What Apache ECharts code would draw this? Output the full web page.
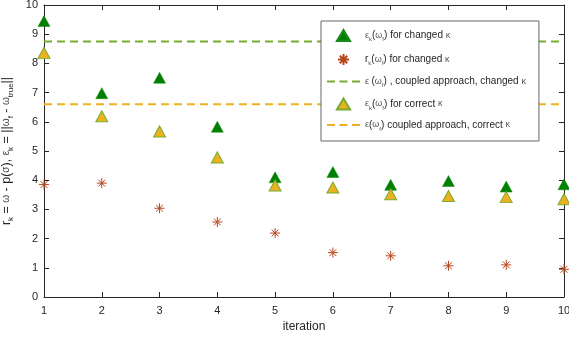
<!DOCTYPE html>
<html>
<head>
<meta charset="utf-8">
<script src="https://cdn.jsdelivr.net/npm/echarts@6/dist/echarts.min.js"></script>
<style>
  html, body { margin: 0; padding: 0; background: #fff; }
  #chart { width: 569px; height: 338px; }
</style>
</head>
<body>
<div id="chart"></div>
<script>
// iterations 1..10
const iterations = [1, 2, 3, 4, 5, 6, 7, 8, 9, 10];
// eps_k(omega_f) for changed kappa
const epsChanged = [9.45, 6.98, 7.51, 5.83, 4.10, 4.28, 3.84, 3.97, 3.78, 3.86];
// r_k(omega_f) for changed kappa
const rChanged = [3.85, 3.90, 3.04, 2.57, 2.19, 1.52, 1.41, 1.07, 1.10, 0.95];
// eps_k(omega_f) for correct kappa
const epsCorrect = [8.36, 6.19, 5.67, 4.78, 3.82, 3.75, 3.52, 3.46, 3.42, 3.35];
// coupled approach reference levels
const coupledChanged = 8.75;
const coupledCorrect = 6.6;

const xTicks = [1, 10]; // x range
const yTicks = [0, 10]; // y range

const pairs = (xs, ys) => xs.map((x, i) => [x, ys[i]]);
const flat = v => [[xTicks[0], v], [xTicks[1], v]];

const chart = echarts.init(document.getElementById('chart'));

const textColor = '#262626';
const fontFam = 'Liberation Sans, Arial, sans-serif';
const asterisk = 'path://M0 5 L10 5 M5 0 L5 10 M1.6 1.6 L8.4 8.4 M1.6 8.4 L8.4 1.6';
const triPath = 'path://M6 0 L12 10 L0 10 Z';
const dashPath = 'path://M0 0 H8 V2 H0 Z M12.5 0 H20.5 V2 H12.5 Z M25 0 H33 V2 H25 Z';

const legendText = {
  epsChanged: '{g|ε}{s|k}{n|(}{g|ω}{s|f}{n|) for changed }{g|κ}',
  rChanged: '{n|r}{s|k}{n|(}{g|ω}{s|f}{n|) for changed }{g|κ}',
  coupledChanged: '{g|ε }{n|(}{g|ω}{s|f}{n|) , coupled approach, changed }{g|κ}',
  epsCorrect: '{g|ε}{s|k}{n|(}{g|ω}{s|f}{n|) for correct }{g|κ}',
  coupledCorrect: '{g|ε}{n|(}{g|ω}{s|f}{n|) coupled approach, correct }{g|κ}'
};

const axisCommon = {
  axisLine: { show: true, onZero: false, lineStyle: { color: textColor, width: 1 } },
  axisTick: { show: true, inside: true, length: 5, lineStyle: { color: textColor } },
  splitLine: { show: false }
};

const option = {
  animation: false,
  backgroundColor: '#fff',
  grid: { left: 44, right: 5, top: 5, bottom: 41, containLabel: false, outerBoundsMode: 'none' },
  xAxis: [
    Object.assign({
      type: 'value', min: xTicks[0], max: xTicks[1], interval: 1,
      name: 'iteration', nameLocation: 'middle', nameGap: 24,
      nameTextStyle: { fontSize: 12, color: textColor, fontFamily: fontFam },
      axisLabel: { fontSize: 11, color: textColor, fontFamily: fontFam, margin: 8 }
    }, axisCommon),
    Object.assign({
      type: 'value', min: xTicks[0], max: xTicks[1], interval: 1, position: 'top',
      axisLabel: { show: false }
    }, axisCommon)
  ],
  yAxis: [
    Object.assign({
      type: 'value', min: yTicks[0], max: yTicks[1], interval: 1,
      name: '{n|r}{s|k}{n| = }{g|ω}{n| - p(}{g|σ}{n|), }{g|ε}{s|k}{n| = ||}{g|ω}{s|f}{n| - }{g|ω}{s|true}{n|||}',
      nameLocation: 'middle', nameRotate: 90, nameGap: 20,
      nameTextStyle: {
        color: textColor, fontFamily: fontFam,
        rich: {
          n: { fontSize: 12.5, color: textColor, fontFamily: fontFam, lineHeight: 17 },
          g: { fontSize: 10, color: '#444', fontFamily: fontFam, lineHeight: 17 },
          s: { fontSize: 8, color: textColor, fontFamily: fontFam, verticalAlign: 'bottom' }
        }
      },
      axisLabel: { fontSize: 11, color: textColor, fontFamily: fontFam, margin: 6 }
    }, axisCommon),
    Object.assign({
      type: 'value', min: yTicks[0], max: yTicks[1], interval: 1, position: 'right',
      axisLabel: { show: false }
    }, axisCommon)
  ],
  legend: {
    orient: 'vertical',
    left: 321, top: 21,
    padding: [8, 13, 9, 6],
    itemWidth: 33, itemHeight: 11, itemGap: 9,
    symbolKeepAspect: true,
    backgroundColor: '#fff',
    borderColor: '#666', borderWidth: 1,
    data: [
      { name: 'epsChanged', icon: triPath },
      { name: 'rChanged', icon: asterisk },
      { name: 'coupledChanged', icon: dashPath, itemStyle: { color: '#77AC30', borderWidth: 0 } },
      { name: 'epsCorrect', icon: triPath },
      { name: 'coupledCorrect', icon: dashPath, itemStyle: { color: '#EDB120', borderWidth: 0 } }
    ],
    formatter: name => legendText[name],
    textStyle: {
      color: textColor, fontFamily: fontFam,
      rich: {
        n: { fontSize: 10, color: textColor, fontFamily: fontFam, lineHeight: 14 },
        g: { fontSize: 9, color: '#555', fontFamily: fontFam, lineHeight: 14 },
        s: { fontSize: 6, color: '#555', fontFamily: fontFam, verticalAlign: 'bottom' }
      }
    }
  },
  series: [
    {
      name: 'coupledChanged', type: 'line', data: flat(coupledChanged),
      symbol: 'none', lineStyle: { color: '#77AC30', width: 2, type: [8, 5] },
      itemStyle: { color: '#77AC30' }, z: 1
    },
    {
      name: 'coupledCorrect', type: 'line', data: flat(coupledCorrect),
      symbol: 'none', lineStyle: { color: '#EDB120', width: 2, type: [8, 5] },
      itemStyle: { color: '#EDB120' }, z: 1
    },
    {
      name: 'epsChanged', type: 'scatter', data: pairs(iterations, epsChanged),
      symbol: 'triangle', symbolSize: [12, 11],
      itemStyle: { color: '#008000', borderColor: '#1a8a1a', borderWidth: 0.5, opacity: 1 }, z: 3
    },
    {
      name: 'rChanged', type: 'scatter', data: pairs(iterations, rChanged),
      symbol: asterisk, symbolSize: 10,
      itemStyle: { color: 'none', borderColor: '#B8461C', borderWidth: 1, opacity: 1 }, z: 3
    },
    {
      name: 'epsCorrect', type: 'scatter', data: pairs(iterations, epsCorrect),
      symbol: 'triangle', symbolSize: [12, 11],
      itemStyle: { color: '#EDB120', borderColor: '#77AC30', borderWidth: 1, opacity: 1 }, z: 3
    }
  ]
};

chart.setOption(option);
</script>
</body>
</html>
